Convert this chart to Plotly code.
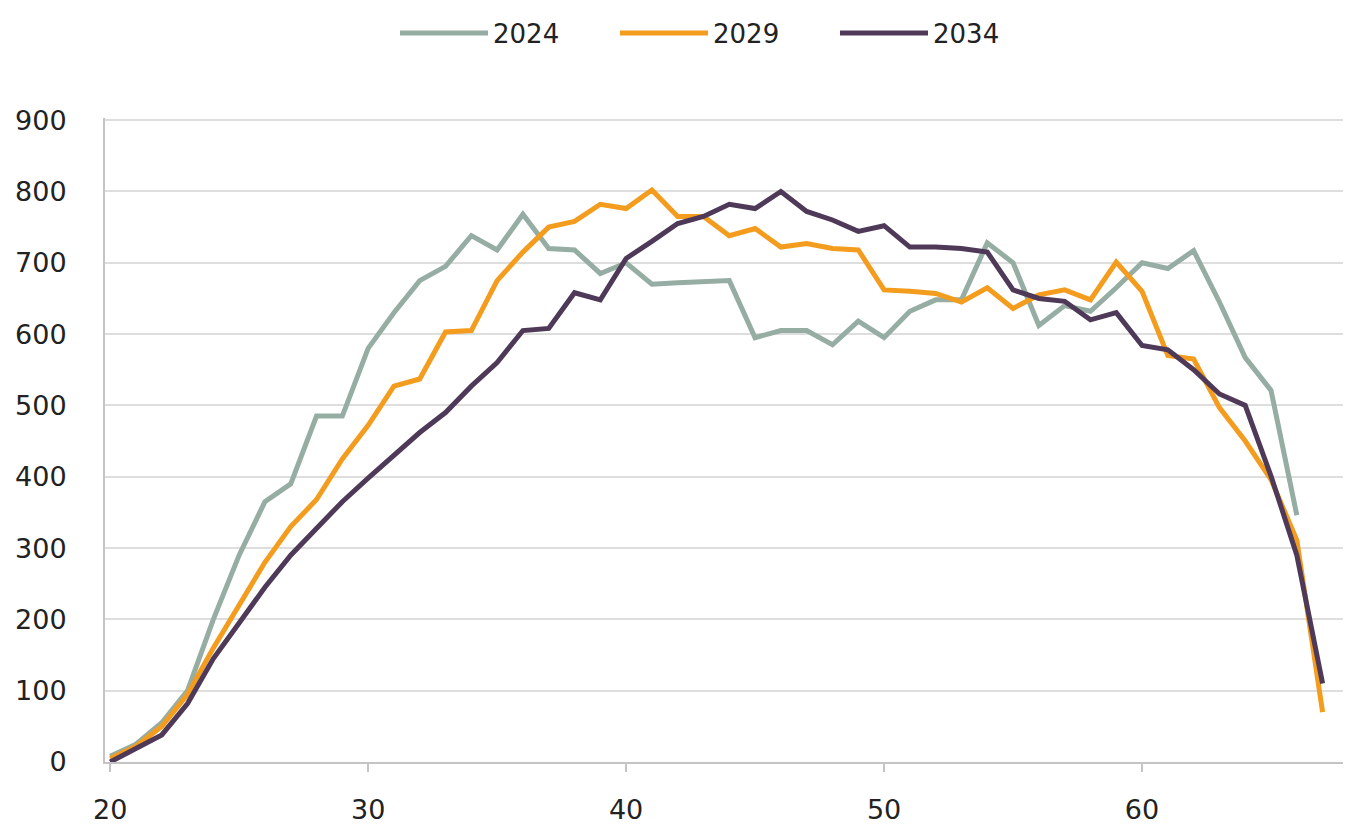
import plotly.graph_objects as go

# Idade (eixo x) e valores por ano de projeção
ages = list(range(20, 68))

v2024 = [8, 25, 55, 100, 200, 290, 365, 390, 485, 485,
         580, 630, 675, 695, 738, 718, 768, 720, 718, 685,
         700, 670, 672, 673, 675, 595, 605, 605, 585, 618,
         595, 632, 648, 648, 728, 700, 612, 640, 632, 665,
         700, 692, 717, 645, 567, 521, 346]

v2029 = [5, 22, 50, 95, 160, 220, 280, 330, 368, 425,
         472, 527, 537, 603, 605, 675, 715, 750, 758, 782,
         776, 802, 765, 765, 738, 748, 722, 727, 720, 718,
         662, 660, 657, 645, 665, 636, 655, 662, 648, 701,
         660, 570, 565, 497, 450, 396, 311, 70]

v2034 = [0, 20, 38, 82, 145, 195, 245, 290, 328, 365,
         398, 430, 462, 490, 527, 560, 605, 608, 658, 648,
         706, 730, 755, 765, 782, 776, 800, 772, 760, 744,
         752, 722, 722, 720, 715, 662, 650, 646, 620, 630,
         584, 578, 550, 516, 500, 401, 290, 110]

series = [
    ('2024', v2024, '#95ADA2'),
    ('2029', v2029, '#F39C1E'),
    ('2034', v2034, '#4E3A58'),
]

fig = go.Figure()

for name, vals, color in series:
    fig.add_trace(
        go.Scatter(
            x=ages[:len(vals)],
            y=vals,
            mode='lines',
            name=name,
            line=dict(color=color, width=5),
        )
    )

font_family = 'DejaVu Sans, Verdana, sans-serif'

# a página tem 8 px de margem no body, por isso a figura fica 8 px menor
W, H = 1343, 820

fig.update_layout(
    width=W,
    height=H,
    margin=dict(l=97, r=0, t=110, b=66, autoexpand=False),
    paper_bgcolor='white',
    plot_bgcolor='white',
    font=dict(family=font_family, size=27, color='#222222'),
    showlegend=True,
    legend=dict(
        orientation='h',
        xref='container',
        yref='container',
        xanchor='left',
        x=387 / W,
        yanchor='middle',
        y=1 - 25 / H,
        itemwidth=88,
        entrywidth=117,
        font=dict(size=26),
        traceorder='normal',
    ),
)

fig.update_xaxes(
    range=[19.8, 68.1],
    tickvals=[20, 30, 40, 50, 60],
    showgrid=False,
    zeroline=False,
    showline=True,
    linecolor='#c4c4c4',
    linewidth=2,
    ticks='outside',
    ticklen=8,
    tickwidth=2,
    tickcolor='#c4c4c4',
    ticklabelstandoff=15,
    automargin=False,
)

fig.update_yaxes(
    range=[0, 903],
    tickvals=[0, 100, 200, 300, 400, 500, 600, 700, 800, 900],
    showgrid=True,
    gridcolor='#dedede',
    gridwidth=2,
    zeroline=False,
    showline=True,
    linecolor='#c4c4c4',
    linewidth=2,
    ticklabelstandoff=31,
    automargin=False,
)

fig.write_html("out.html")
